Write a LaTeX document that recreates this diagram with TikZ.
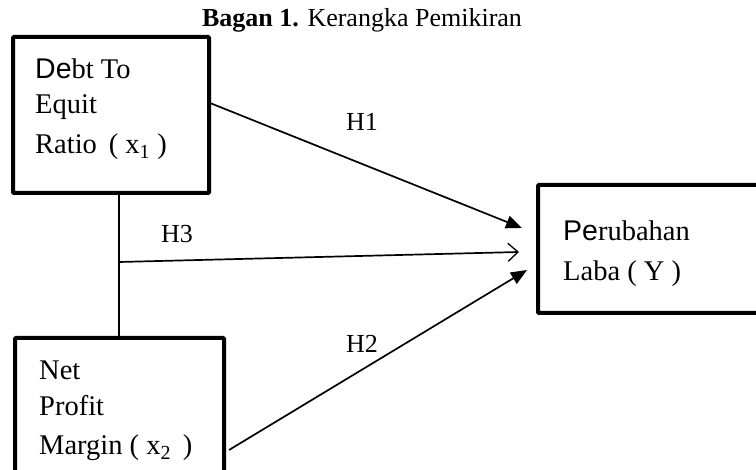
\documentclass[tikz,border=0pt]{standalone}
\usepackage{fontspec}
\setmainfont{Liberation Serif}
\newfontfamily\arialf{Liberation Sans}
\usetikzlibrary{arrows.meta}
\begin{document}
\begin{tikzpicture}[x=1pt,y=-1pt,
  box/.style={draw,line width=4pt,rounded corners=1pt},
  txt/.style={anchor=base west,inner sep=0pt,font=\fontsize{28.5}{32}\selectfont},
  hlab/.style={anchor=base,inner sep=0pt,font=\fontsize{26}{30}\selectfont},
  link/.style={line width=1.7pt},
  fillarrow/.style={link,-{Triangle[length=16pt,width=13pt]}},
  openarrow/.style={link,-{Straight Barb[length=10pt,width=18pt,line width=1.3pt]}}]
\useasboundingbox (0,0) rectangle (756,470);
% title
\node[anchor=base,inner sep=0pt,font=\fontsize{26}{30}\selectfont] (title) at (362,27)
  {\textbf{Bagan 1.} Kerangka Pemikiran};
% boxes
\draw[box] (13,37) rectangle (209,193);
\coordinate (b1bot) at (119,193);
\draw[box] (15,338) rectangle (224,490);
\coordinate (b2top) at (119,338);
\draw[box] (538,185) rectangle (775,313);
% box texts
\node[txt] (t1a) at (35,79) {{\arialf De}bt To};
\node[txt] (t1b) at (35,114) {Equit};
\node[txt] (t1c) at (35,154) {Ratio \,( x\textsubscript{1} )};
\node[txt] (t2a) at (39,380) {Net};
\node[txt] (t2b) at (39,416) {Profit};
\node[txt] (t2c) at (39,455) {Margin ( x\textsubscript{2}\, )};
\node[txt] (t3a) at (563,241) {{\arialf Pe}rubahan};
\node[txt] (t3b) at (563,281) {Laba ( Y )};
% connectors
\coordinate (h1s) at (210,103);
\coordinate (h1e) at (522,228);
\coordinate (h3s) at (119,262);
\coordinate (h3e) at (519,252);
\coordinate (h2s) at (229,450);
\coordinate (h2e) at (527,270);
\draw[link] (b1bot) -- (b2top);
\draw[fillarrow] (h1s) -- (h1e);
\draw[openarrow] (h3s) -- (h3e);
\draw[fillarrow] (h2s) -- (h2e);
% labels
\node[hlab] (lh1) at (362,131) {H1};
\node[hlab] (lh3) at (177,243) {H3};
\node[hlab] (lh2) at (362,353) {H2};
\end{tikzpicture}
\end{document}
